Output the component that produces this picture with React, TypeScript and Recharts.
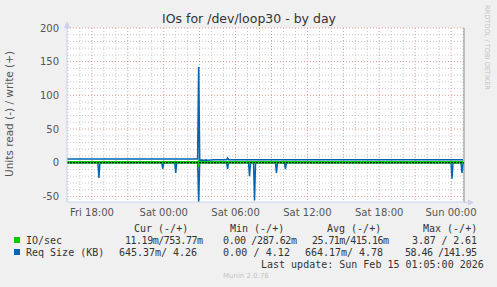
import React from 'react';
import { LineChart, Line, XAxis, YAxis, CartesianGrid, ReferenceLine } from 'recharts';

// sample times, minutes since Fri 00:00 (5 min steps)
const sampleMinutes = [
  955, 1110, 1115, 1120, 1430, 1435, 1440, 1495, 1500, 1505,
  1610, 1615, 1620, 1630, 1640, 1650, 1660, 1690, 1755, 1760,
  1765, 1865, 1870, 1875, 1890, 1895, 1900, 2000, 2005, 2010,
  2045, 2050, 2055, 2880, 2885, 2890, 2930, 2935, 2940,
];

// IO/sec (write is drawn up, read is drawn down)
const ioWrite = [
  1.2, 1.2, 1.2, 1.2, 1.2, 1.2, 1.2, 1.2, 1.2, 1.2,
  1.2, 2.61, 1.2, 1.2, 1.2, 1.2, 1.2, 1.2, 1.2, 1.5,
  1.2, 1.2, 1.2, 1.2, 1.2, 1.2, 1.2, 1.2, 2.0, 1.2,
  1.2, 1.2, 1.2, 1.2, 1.2, 1.2, 1.2, 1.2, 1.2,
];
const ioRead = [
  0, 0, 0.1, 0, 0, 0.05, 0, 0, 0.05, 0,
  0, 3.87, 0, 0, 0, 0, 0, 0, 0, 0.05,
  0, 0, 0.1, 0, 0, 0.2, 0, 0, 0.05, 0,
  0, 0.05, 0, 0, 0.1, 0, 0, 0.05, 0,
];

// Req Size (KB)
const reqWrite = [
  5.6, 5.6, 5.6, 5.6, 5.6, 5.6, 5.6, 5.6, 5.6, 5.6,
  5.6, 141.95, 3.2, 4.2, 3.2, 4.2, 3.6, 4.5, 4.5, 7.0,
  4.5, 4.5, 4.5, 4.5, 4.5, 4.5, 4.5, 4.5, 4.5, 4.5,
  4.5, 4.5, 4.5, 4.5, 4.5, 4.5, 4.5, 4.5, 4.5,
];
const reqRead = [
  0, 0, 22.7, 0, 0, 9, 0, 0, 15.3, 0,
  0, 58.46, 0, 0, 0, 0, 0, 0, 0, 9,
  0, 0, 20, 0, 0, 56, 0, 0, 15, 0,
  0, 9.5, 0, 0, 23.8, 0, 0, 15, 0,
];

const tickMinutes = [1080, 1440, 1800, 2160, 2520, 2880];
const tickLabels = ['Fri 18:00', 'Sat 00:00', 'Sat 06:00', 'Sat 12:00', 'Sat 18:00', 'Sun 00:00'];
const yTicks = [-50, 0, 50, 100, 150, 200];

const legendRows = [
  { name: 'IO/sec', color: '#00cc00', cur: '11.19m/753.77m', min: '0.00 /287.62m', avg: '25.71m/415.16m', max: '3.87 / 2.61' },
  { name: 'Req Size (KB)', color: '#0066b3', cur: '645.37m/ 4.26', min: '0.00 / 4.12', avg: '664.17m/ 4.78', max: '58.46 /141.95' },
];

const data = sampleMinutes.map((t, i) => ({
  t,
  ioW: ioWrite[i],
  ioR: -ioRead[i],
  reqW: reqWrite[i],
  reqR: -reqRead[i],
}));

// grid positions
const hourLines: number[] = [];
const majorHourLines: number[] = [];
for (let m = 960; m <= 2940; m += 60) {
  if (m % 180 === 0) majorHourLines.push(m);
  else hourLines.push(m);
}
const minorY: number[] = [];
for (let v = -50; v <= 200; v += 10) if (v % 50 !== 0) minorY.push(v);

const AXIS = '#c9d0f2';
const mono = '"DejaVu Sans Mono", monospace';

export default function App() {
  return (
    <div style={{ position: 'relative', width: 497, height: 287, background: '#f0f0f0', fontFamily: '"DejaVu Sans", sans-serif' }}>
      <style>{'body{margin:0}'}</style>
      <LineChart width={497} height={287} data={data} margin={{ top: 28, right: 33, bottom: 65, left: 7 }}>
        <CartesianGrid fill="#ffffff" stroke="#c6c6c6" strokeDasharray="1 2"
          horizontalValues={minorY} verticalValues={hourLines} />
        <CartesianGrid stroke="#e39a9a" strokeDasharray="1 2"
          horizontalValues={yTicks} verticalValues={majorHourLines} />
        <XAxis type="number" dataKey="t" domain={[955, 2945]} ticks={tickMinutes}
          tickFormatter={(v: number) => tickLabels[tickMinutes.indexOf(v)]}
          axisLine={{ stroke: AXIS }} tickLine={false} tickMargin={1} height={20}
          tick={{ fontSize: 10, fill: '#555' }} interval={0} allowDataOverflow />
        <YAxis type="number" domain={[-58.3, 200]} ticks={yTicks} width={60}
          axisLine={{ stroke: AXIS }} tickLine={false} allowDataOverflow
          tick={{ fontSize: 10, fill: '#555' }} interval={0} />
        <ReferenceLine x={2945} stroke="#8c8c8c" />
        <Line dataKey="reqR" stroke="#0066b3" strokeWidth={1.5} dot={false} isAnimationActive={false} />
        <Line dataKey="reqW" stroke="#0066b3" strokeWidth={1.6} dot={false} isAnimationActive={false} />
        <Line dataKey="ioR" stroke="#00cc00" strokeWidth={1.5} dot={false} isAnimationActive={false} />
        <Line dataKey="ioW" stroke="#00cc00" strokeWidth={1.6} dot={false} isAnimationActive={false} />
        <ReferenceLine y={0} stroke="#000000" strokeDasharray="2 1" zIndex={450} />
      </LineChart>
      <svg width={497} height={287} style={{ position: 'absolute', left: 0, top: 0, pointerEvents: 'none' }}>
        <text x={249} y={23} textAnchor="middle" fontSize={12.5} fill="#333">IOs for /dev/loop30 - by day</text>
        <text transform="translate(13,114) rotate(-90)" textAnchor="middle" fontSize={10.5} fill="#555">Units read (-) / write (+)</text>
        <text transform="translate(485,5) rotate(90)" fontSize={6.6} fill="#c4c4c4">RRDTOOL / TOBI OETIKER</text>
        <polygon points="64,28 70,28 67,21" fill={AXIS} />
        <line x1={464} y1={202.5} x2={468} y2={202.5} stroke={AXIS} />
        <polygon points="468,199.5 468,205.5 474,202.5" fill={AXIS} />
        <g fontFamily={mono} fontSize={10} fill="#333">
          <text x={134} y={231.5}>Cur (-/+)</text>
          <text x={230} y={231.5}>Min (-/+)</text>
          <text x={327} y={231.5}>Avg (-/+)</text>
          <text x={423} y={231.5}>Max (-/+)</text>
          {legendRows.map((r, i) => {
            const y = 243.5 + i * 12;
            return (
              <g key={r.name}>
                <rect x={14} y={y - 6.5} width={6} height={6} fill={r.color} />
                <text x={26} y={y}>{r.name}</text>
                <text x={i === 0 ? 125 : 119} y={y} textLength={78} lengthAdjust="spacing">{r.cur}</text>
                <text x={223} y={y} textLength={i === 0 ? 74 : 67} lengthAdjust="spacing">{r.min}</text>
                <text x={i === 0 ? 312 : 305} y={y} textLength={i === 0 ? 77 : 78} lengthAdjust="spacing">{r.avg}</text>
                <text x={i === 0 ? 412 : 405} y={y} textLength={i === 0 ? 65 : 72} lengthAdjust="spacing">{r.max}</text>
              </g>
            );
          })}
          <text x={261} y={267.5}>Last update: Sun Feb 15 01:05:00 2026</text>
        </g>
        <text x={223} y={278} fontSize={7} fill="#c4c4c4">Munin 2.0.76</text>
      </svg>
    </div>
  );
}
